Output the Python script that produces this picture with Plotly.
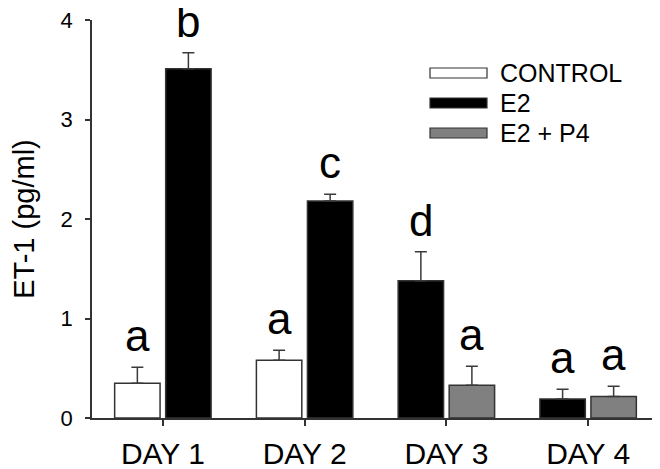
import plotly.graph_objects as go

# data
days = ["DAY 1", "DAY 2", "DAY 3", "DAY 4"]

control = [0.35, 0.58, None, None]
control_err = [0.16, 0.10, None, None]
control_sig = ["a", "a", None, None]

e2 = [3.51, 2.18, 1.38, 0.19]
e2_err = [0.16, 0.07, 0.29, 0.10]
e2_sig = ["b", "c", "d", "a"]

e2p4 = [None, None, 0.33, 0.215]
e2p4_err = [None, None, 0.19, 0.105]
e2p4_sig = [None, None, "a", "a"]

series_names = ["CONTROL", "E2", "E2 + P4"]
series_colors = ["#ffffff", "#000000", "#808080"]

FONT = "Liberation Sans, Arial, sans-serif"
EDGE = "#333333"

# E2 sits in the right slot when a control bar exists, else in the left slot
e2_right = [v if c is not None else None for v, c in zip(e2, control)]
e2_left = [v if c is None else None for v, c in zip(e2, control)]
e2_err_right = [v if c is not None else None for v, c in zip(e2_err, control)]
e2_err_left = [v if c is None else None for v, c in zip(e2_err, control)]


def bar(y, err, color, group, name):
    return go.Bar(
        x=days, y=y, name=name, offsetgroup=group,
        marker=dict(color=color, line=dict(color=EDGE, width=1.5)),
        error_y=dict(type="data", array=err, arrayminus=[0] * len(err),
                     symmetric=False, color="#3a3a3a", thickness=1.5, width=6),
        showlegend=False,
    )


fig = go.Figure()
fig.add_trace(bar(control, control_err, series_colors[0], "L", series_names[0]))
fig.add_trace(bar(e2_right, e2_err_right, series_colors[1], "R", series_names[1]))
fig.add_trace(bar(e2_left, e2_err_left, series_colors[1], "L", series_names[1]))
fig.add_trace(bar(e2p4, e2p4_err, series_colors[2], "R", series_names[2]))

BARGAP = 0.28
half = (1 - BARGAP) / 4  # centre offset of a slot in category units

# significance letters above the error caps
for i in range(len(days)):
    pairs = []
    if control[i] is not None:
        pairs.append((-half, control[i] + control_err[i], control_sig[i]))
        pairs.append((half, e2[i] + e2_err[i], e2_sig[i]))
    else:
        pairs.append((-half, e2[i] + e2_err[i], e2_sig[i]))
        pairs.append((half, e2p4[i] + e2p4_err[i], e2p4_sig[i]))
    for dx, top, txt in pairs:
        fig.add_annotation(x=i + dx, y=top, text=txt, showarrow=False,
                           yanchor="bottom", yshift=5,
                           font=dict(family=FONT, size=44, color="#000"))

# page has an 8px body margin, so the figure is drawn 8px in from the corner
OFF = 8
W, H = 660 - OFF, 469 - OFF
# plot area in page pixels
L, R, T, B = 92, 659, 20, 418


def px(x):
    return (x - L) / (R - L)


def py(y):
    return (B - y) / (B - T)


# legend drawn by hand to get the wide SigmaPlot-style swatches
for k, (nm, col) in enumerate(zip(series_names, series_colors)):
    yc = 73 + 30 * k
    fig.add_shape(type="rect", xref="paper", yref="paper",
                  x0=px(430), x1=px(487), y0=py(yc + 5), y1=py(yc - 5),
                  fillcolor=col, opacity=1, layer="above",
                  line=dict(color=EDGE, width=1.2))
    fig.add_annotation(xref="paper", yref="paper", x=px(498), y=py(yc),
                       text=nm, showarrow=False, xanchor="left", yanchor="middle",
                       font=dict(family=FONT, size=25, color="#000"))

fig.update_layout(
    width=W, height=H,
    margin=dict(l=L - OFF, r=660 - R, t=T - OFF, b=469 - B),
    template="simple_white",
    plot_bgcolor="white", paper_bgcolor="white",
    barmode="group", bargap=BARGAP, bargroupgap=0.11,
    font=dict(family=FONT, color="#000"),
    showlegend=False,
)

fig.update_xaxes(
    type="category", range=[-0.5, 3.5], automargin=False,
    showline=True, linecolor=EDGE, linewidth=1.5,
    ticks="outside", ticklen=6, tickwidth=1.5, tickcolor=EDGE,
    tickfont=dict(family=FONT, size=30), ticklabelstandoff=2,
    ticklabeloverflow="allow",
    showgrid=False,
)
fig.update_yaxes(
    range=[0, 4], dtick=1, automargin=False,
    showline=True, linecolor=EDGE, linewidth=1.5,
    ticks="outside", ticklen=5, tickwidth=1.5, tickcolor=EDGE,
    tickfont=dict(family=FONT, size=22), ticklabelstandoff=8,
    ticklabeloverflow="allow",
    showgrid=False, zeroline=False,
    title=dict(text="ET-1 (pg/ml)", font=dict(family=FONT, size=29), standoff=35),
)

fig.write_html("out.html")
